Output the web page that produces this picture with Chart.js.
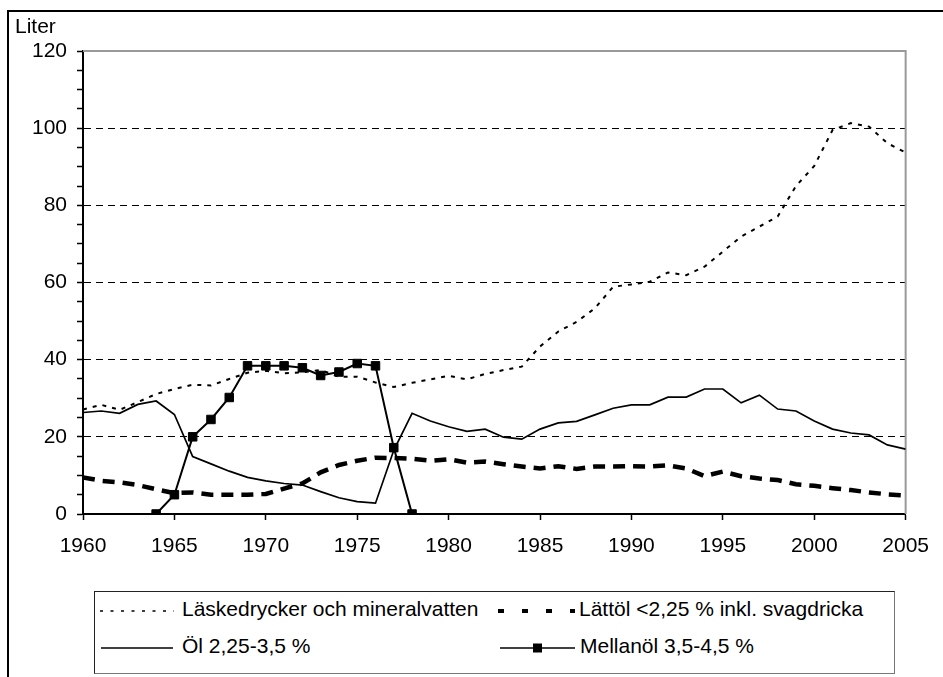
<!DOCTYPE html>
<html>
<head>
<meta charset="utf-8">
<script src="https://cdn.jsdelivr.net/npm/chart.js@4.4.1/dist/chart.umd.min.js"></script>
<style>
    html, body { margin: 0; padding: 0; background: #fff; overflow: hidden; }
    body { width: 943px; height: 677px; position: relative; font-family: "Liberation Sans", Arial, sans-serif; color: #000; }
    #frame { position: absolute; left: 7px; top: 10px; width: 980px; height: 720px; border: 2px solid #000; box-sizing: border-box; }
    #chart { position: absolute; left: 0; top: 0; }
    #unit { position: absolute; left: 15px; top: 14px; font-size: 21px; line-height: 24px; }
    #legend { position: absolute; left: 94px; top: 591px; width: 801px; height: 83px; border: 1px solid #222; border-right-color: #777; border-bottom-color: #777; box-sizing: border-box; background: #fff; }
    .sample { position: absolute; }
    .label { position: absolute; font-size: 21px; line-height: 24px; white-space: nowrap; }
</style>
</head>
<body>
<div id="frame"></div>
<canvas id="chart" width="943" height="677"></canvas>
<div id="unit">Liter</div>
<div id="legend"></div>

<script>
const years = [1960, 1961, 1962, 1963, 1964, 1965, 1966, 1967, 1968, 1969,
               1970, 1971, 1972, 1973, 1974, 1975, 1976, 1977, 1978, 1979,
               1980, 1981, 1982, 1983, 1984, 1985, 1986, 1987, 1988, 1989,
               1990, 1991, 1992, 1993, 1994, 1995, 1996, 1997, 1998, 1999,
               2000, 2001, 2002, 2003, 2004, 2005];

const seriesNames = ['Läskedrycker och mineralvatten', 'Lättöl <2,25 % inkl. svagdricka',
                     'Öl 2,25-3,5 %', 'Mellanöl 3,5-4,5 %'];

const laskValues = [27.1, 28.3, 27.0, 29.0, 31.1, 32.4, 33.5, 33.3, 35.0, 36.6,
                    37.1, 36.5, 36.7, 37.3, 35.6, 35.6, 34.1, 32.9, 34.0, 34.9,
                    35.8, 34.9, 36.3, 37.3, 38.2, 43.4, 47.3, 49.8, 53.3, 58.9,
                    59.5, 60.2, 62.6, 61.9, 64.1, 68.0, 71.9, 74.5, 77.1, 85.0,
                    90.2, 99.5, 101.3, 100.4, 96.1, 93.7];

const lattolValues = [9.5, 8.6, 8.2, 7.5, 6.4, 5.4, 5.6, 5.0, 5.0, 5.0,
                      5.2, 6.6, 7.9, 10.8, 12.7, 13.8, 14.6, 14.5, 14.3, 13.8,
                      14.2, 13.3, 13.6, 12.9, 12.3, 11.8, 12.4, 11.7, 12.3, 12.3,
                      12.4, 12.3, 12.6, 11.8, 9.8, 11.0, 9.8, 9.2, 8.8, 7.7,
                      7.3, 6.7, 6.2, 5.6, 5.1, 4.8];

const olValues = [26.3, 26.7, 26.1, 28.4, 29.3, 25.8, 14.9, 13.0, 11.1, 9.5,
                  8.6, 7.9, 7.5, 5.8, 4.2, 3.2, 2.8, 16.5, 26.1, 24.1,
                  22.6, 21.4, 22.0, 19.9, 19.4, 22.0, 23.6, 24.0, 25.7, 27.4,
                  28.3, 28.3, 30.3, 30.3, 32.4, 32.4, 28.8, 30.8, 27.2, 26.7,
                  24.1, 22.0, 21.0, 20.5, 17.9, 16.8];

const mellanYears = [1964, 1965, 1966, 1967, 1968, 1969, 1970, 1971,
                     1972, 1973, 1974, 1975, 1976, 1977, 1978];
const mellanValues = [0, 5.0, 20.0, 24.5, 30.2, 38.4, 38.4, 38.4,
                      37.9, 35.9, 36.8, 39.0, 38.4, 17.2, 0];

const yMin = 0, yMax = 120, yStep = 5, yLabelStep = 20;
const xMin = 1960, xMax = 2005, xStep = 5;

const toPoints = (xs, ys) => xs.map((x, i) => ({ x: x, y: ys[i] }));

// grey frame on top and right of the plot area
const plotFrame = {
    id: 'plotFrame',
    beforeDatasetsDraw(chart) {
        const { ctx, chartArea: a } = chart;
        ctx.save();
        ctx.strokeStyle = '#999';
        ctx.lineWidth = 2;
        ctx.beginPath();
        ctx.moveTo(a.left, a.top);
        ctx.lineTo(a.right, a.top);
        ctx.lineTo(a.right, a.bottom);
        ctx.stroke();
        ctx.restore();
    }
};

const ctx = document.getElementById('chart').getContext('2d');
new Chart(ctx, {
    type: 'line',
    data: {
        datasets: [{
            label: seriesNames[0],
            data: toPoints(years, laskValues),
            borderColor: '#000',
            borderWidth: 2,
            borderDash: [4, 6],
            pointRadius: 0
        }, {
            label: seriesNames[1],
            data: toPoints(years, lattolValues),
            borderColor: '#000',
            borderWidth: 4.5,
            borderDash: [12, 8],
            pointRadius: 0
        }, {
            label: seriesNames[2],
            data: toPoints(years, olValues),
            borderColor: '#000',
            borderWidth: 1.7,
            pointRadius: 0
        }, {
            label: seriesNames[3],
            data: toPoints(mellanYears, mellanValues),
            borderColor: '#000',
            borderWidth: 2,
            pointStyle: 'rect',
            pointRadius: 6,
            pointBackgroundColor: '#000',
            pointBorderColor: '#000',
            pointBorderWidth: 1
        }]
    },
    options: {
        responsive: false,
        animation: false,
        events: [],
        layout: { padding: { left: 0, top: 51, right: 37, bottom: 123 } },
        elements: { line: { tension: 0 } },
        plugins: {
            legend: { display: false },
            tooltip: { enabled: false }
        },
        scales: {
            x: {
                type: 'linear',
                min: xMin,
                max: xMax,
                afterFit: scale => { scale.height = 40; },
                ticks: {
                    stepSize: xStep,
                    color: '#000',
                    padding: 14,
                    maxRotation: 0,
                    font: { family: '"Liberation Sans", Arial', size: 21 },
                    callback: v => String(v)
                },
                grid: { drawOnChartArea: false, tickColor: '#000', tickLength: 6, tickWidth: 1.5 },
                border: { color: '#000', width: 2 }
            },
            y: {
                min: yMin,
                max: yMax,
                afterFit: scale => { scale.width = 83; },
                ticks: {
                    stepSize: yStep,
                    autoSkip: false,
                    color: '#000',
                    padding: 10,
                    font: { family: '"Liberation Sans", Arial', size: 21 },
                    callback: v => (v % yLabelStep === 0 ? String(v) : '')
                },
                grid: {
                    color: c => (c.tick && c.tick.value % yLabelStep === 0 && c.tick.value > yMin && c.tick.value < yMax) ? '#000' : 'rgba(0,0,0,0)',
                    lineWidth: 1,
                    tickColor: '#000',
                    tickLength: 6,
                    tickWidth: 1.5
                },
                border: { color: '#000', width: 2, dash: [7, 5] }
            }
        }
    },
    plugins: [plotFrame]
});

// legend, drawn as html with small svg samples
const legendItems = [
    { name: seriesNames[0], kind: 'dot',    sx: 100, sw: 74, tx: 182, cy: 609 },
    { name: seriesNames[1], kind: 'thick',  sx: 498, sw: 77, tx: 579, cy: 609 },
    { name: seriesNames[2], kind: 'solid',  sx: 101, sw: 72, tx: 182, cy: 646 },
    { name: seriesNames[3], kind: 'marker', sx: 500, sw: 75, tx: 580, cy: 646 }
];

function sampleSvg(kind, w) {
    const h = 12, m = h / 2;
    let s = '<svg width="' + w + '" height="' + h + '" xmlns="http://www.w3.org/2000/svg">';
    if (kind === 'dot') {
        s += '<line x1="0" y1="' + m + '" x2="' + w + '" y2="' + m + '" stroke="#000" stroke-width="1.6" stroke-dasharray="3 7.5"/>';
    } else if (kind === 'thick') {
        s += '<line x1="0" y1="' + m + '" x2="' + w + '" y2="' + m + '" stroke="#000" stroke-width="4" stroke-dasharray="6 18"/>';
        s += '<line x1="' + (w - 5) + '" y1="' + m + '" x2="' + w + '" y2="' + m + '" stroke="#000" stroke-width="4"/>';
    } else {
        s += '<line x1="0" y1="' + m + '" x2="' + w + '" y2="' + m + '" stroke="#000" stroke-width="1.6"/>';
        if (kind === 'marker') {
            s += '<rect x="' + (w / 2 - 4.5) + '" y="' + (m - 4.5) + '" width="9" height="9" fill="#000"/>';
        }
    }
    return s + '</svg>';
}

legendItems.forEach(item => {
    const sample = document.createElement('div');
    sample.className = 'sample';
    sample.style.left = item.sx + 'px';
    sample.style.top = (item.cy - 6) + 'px';
    sample.style.height = '12px';
    sample.innerHTML = sampleSvg(item.kind, item.sw);
    document.body.appendChild(sample);

    const label = document.createElement('div');
    label.className = 'label';
    label.style.left = item.tx + 'px';
    label.style.top = (item.cy - 12) + 'px';
    label.textContent = item.name;
    document.body.appendChild(label);
});
</script>
</body>
</html>
